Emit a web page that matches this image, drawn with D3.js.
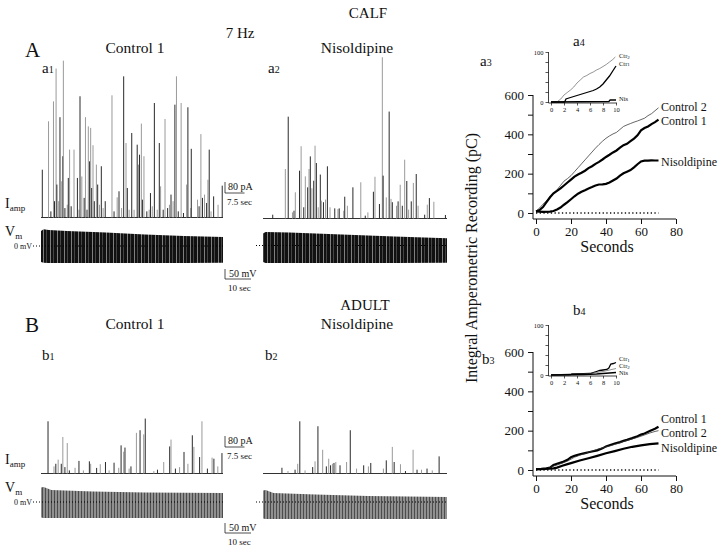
<!DOCTYPE html>
<html><head><meta charset="utf-8">
<script src="https://cdn.jsdelivr.net/npm/d3@7"></script>
<style>
body{margin:0;background:#fff}
svg{display:block}
text{font-family:"Liberation Serif","Times New Roman",Times,serif;fill:#111}
</style>
</head><body>
<svg id="c" width="720" height="548"></svg>
<script>
// ---------------- DATA ----------------
// Amperometric spikes: time (s) and amplitude (pA)
const a1Time = [0.5,2.9,3.8,4.8,5.2,5.8,6.1,6.8,7.3,7.8,8.4,8.6,9.2,10.1,10.5,11.0,11.6,12.7,14.0,14.6,15.0,15.7,16.6,17.1,17.7,18.2,18.7,19.1,19.5,20.0,20.5,21.3,21.8,22.5,23.2,23.9,24.7,27.3,28.1,29.3,30.0,31.0,31.8,32.7,33.2,33.9,34.9,35.8,37.0,37.5,37.9,38.6,39.0,39.6,40.7,41.6,42.1,42.8,43.6,44.7,45.5,46.0,47.0,47.7,48.7,49.4,50.0,50.8,51.5,52.1,52.8,53.9,54.8,56.0,56.5,57.6,57.8,60.2,60.8,61.5,62.1,62.9,63.7,64.2,64.7,65.4,66.4,68.1,69.7];
const a1Amp  = [344,696,41,841,115,1080,236,115,726,260,442,1137,65,89,284,490,78,490,284,53,878,295,139,726,53,659,405,648,211,522,115,381,236,89,369,65,115,885,41,143,187,65,1023,538,211,53,611,53,526,381,453,679,126,442,41,53,174,78,829,53,538,223,53,713,65,89,163,115,817,1023,41,829,29,236,798,65,496,126,78,603,139,163,102,271,490,41,150,89,228];

const a2Time = [3.7,8.5,9.6,11.2,11.8,12.3,13.9,14.5,15.5,16.1,17.0,17.5,18.0,18.6,19.3,19.8,20.3,21.0,21.8,22.2,23.0,23.8,24.5,25.5,27.3,28.5,29.0,30.7,31.1,32.1,34.2,37.2,38.9,39.9,42.0,42.6,44.3,45.4,45.7,46.9,48.0,48.7,49.2,50.8,51.4,52.2,53.0,53.9,54.7,55.4,56.4,57.2,58.3,59.0,61.5,62.5,63.3,65.0,69.4];
const a2Amp  = [24,356,737,41,53,187,344,522,78,303,223,356,448,216,271,526,400,78,316,126,115,134,376,78,70,65,70,53,155,89,223,260,17,41,191,300,102,1169,308,150,774,139,115,89,121,242,89,424,269,61,121,255,320,89,24,97,145,118,22];

const b1Time = [2.7,5.0,5.7,6.6,7.8,8.4,9.2,10.1,10.9,13.1,14.6,16.3,18.6,19.1,21.4,22.8,24.8,26.2,28.1,29.9,30.8,31.8,32.3,33.9,34.6,36.7,38.1,39.5,40.1,43.4,44.8,47.2,49.5,50.0,51.7,53.3,55.0,56.5,58.2,58.8,61.0,61.9,64.0,65.8,66.5,68.0,69.6];
const b1Amp  = [376,48,67,97,67,262,43,218,19,38,88,19,85,67,37,64,80,19,75,38,201,155,185,32,48,292,311,281,396,14,24,80,193,243,32,43,153,67,274,190,116,376,32,112,104,48,145];

const b2Time = [7.2,9.5,12.2,13.2,14.0,16.0,18.9,19.8,20.9,22.7,24.1,25.0,25.7,26.4,27.0,27.7,29.3,31.8,33.2,35.6,38.3,40.1,41.0,45.8,46.9,49.2,49.9,52.3,54.2,57.1,58.6,60.3,62.4,64.4,67.0];
const b2Amp  = [38,14,24,67,376,19,43,85,340,169,48,104,56,67,73,80,56,80,311,32,56,48,73,32,92,190,80,64,14,169,24,24,32,19,121];

// Membrane potential envelopes: time (s), upper and lower limits (mV)
const a1VmTime = [0,1,3,10,25,40,55,70];
const a1VmTop  = [75,84,80,75,67,57,50,45];
const a1VmBot  = [-80,-84,-85,-85,-85,-85,-85,-84];
const a2VmTime = [0,1,10,25,35,50,70];
const a2VmTop  = [60,68,65,58,52,45,36];
const a2VmBot  = [-82,-87,-87,-87,-87,-87,-86];
const b1VmTime = [0,1,4,20,40,70];
const b1VmTop  = [72,75,60,52,48,45];
const b1VmBot  = [-78,-80,-80,-80,-80,-80];
const b2VmTime = [0,1,4,20,40,70];
const b2VmTop  = [58,60,45,38,30,25];
const b2VmBot  = [-83,-85,-85,-85,-85,-85];

// Integrated amperometric recordings (pC) vs time (s)
const a3Ctl1Time = [0,2,4,6,8,10,12,14,16,18,20,22,24,26,28,30,32,34,36,38,40,42,44,46,48,50,52,54,56,58,60,62,64,66,68,70];
const a3Ctl1     = [8,15,30,55,80,100,112,125,140,155,170,185,196,205,215,228,238,250,260,272,285,296,308,318,332,345,352,365,378,395,420,432,440,452,462,475];
const a3Ctl2Time = [0,2,4,6,8,10,12,14,16,18,20,22,24,26,28,30,32,34,36,38,40,42,44,46,48,50,52,54,56,58,60,62,64,66,68,70];
const a3Ctl2     = [10,25,45,62,82,100,118,140,162,175,190,210,230,250,270,290,310,330,348,365,380,392,402,410,425,440,448,455,462,468,475,482,495,505,520,535];
const a3NisTime  = [0,4,8,10,12,14,16,18,20,22,24,26,28,30,32,34,36,38,40,42,44,46,48,50,52,54,56,58,60,62,64,66,68,70];
const a3Nis      = [8,6,7,10,18,28,42,55,70,85,98,108,116,125,132,140,145,146,148,155,165,175,190,202,210,218,232,248,262,266,266,268,267,267];

const b3Ctl1Time = [0,3,6,8,10,12,15,18,20,22,25,28,30,32,35,38,40,42,45,48,50,52,55,58,60,62,65,68,70];
const b3Ctl1     = [5,6,8,12,25,32,40,52,65,72,80,86,90,94,100,110,120,126,135,142,148,153,162,172,180,186,198,210,220];
const b3Ctl2Time = [0,3,6,8,10,12,15,18,20,22,25,28,30,32,35,38,40,42,45,48,50,52,55,58,60,62,65,68,70];
const b3Ctl2     = [5,6,8,12,20,25,35,45,55,65,75,84,90,96,105,112,118,122,130,138,145,150,158,166,172,178,188,196,200];
const b3NisTime  = [0,5,10,12,15,18,20,25,30,35,40,45,50,55,60,65,70];
const b3Nis      = [3,5,8,12,22,30,35,48,60,72,85,96,108,118,125,132,135];

// Insets: first 10 s
const a4Ctr2Time = [0,1,1.5,2,2.5,3,3.5,4,4.5,5,5.5,6,6.5,7,7.5,8,8.5,9,9.5,9.9];
const a4Ctr2     = [0,1,6,14,19,24,30,38,44,50,53,57,60,64,67,71,75,80,85,90];
const a4Ctr1Time = [0,2.1,2.3,3,4,5,6,6.5,7,7.5,8,8.5,9,9.5,10];
const a4Ctr1     = [0,0,6,9,13,17,21,23,26,30,36,44,52,62,72];
const a4NisTime  = [0,8.9,9.1,10];
const a4Nis      = [0,1,4,4];
const b4Ctr1Time = [0,3,3.2,5,6,6.5,7,7.5,8,8.6,8.9,9.2,9.6,10];
const b4Ctr1     = [0,1,2,2.5,3,5,7,9,10,11,14,22,23,25];
const b4Ctr2Time = [0,3,5,6,7,8,9,10];
const b4Ctr2     = [0,1,2,3,5,7,10,13];
const b4NisTime  = [0,3,5,7,9,10];
const b4Nis      = [0,0.5,1,2,4,5];

// Tick values
const mainYTicks = [0,100,200,300,400,500,600];
const mainYLabels = [0,200,400,600];
const mainXTicks = [0,20,40,60,80];
const insetYTicks = [0,20,40,60,80,100];
const insetYLabels = [0,100];
const insetXTicks = [0,2,4,6,8,10];

// ---------------- DRAW ----------------
const svg = d3.select("#c");
svg.append("rect").attr("width",720).attr("height",548).attr("fill","#fff");
const defs = svg.append("defs");
const pd = defs.append("pattern").attr("id","vmDark").attr("patternUnits","userSpaceOnUse").attr("width",7).attr("height",20);
pd.append("rect").attr("width",7).attr("height",20).attr("fill","#111");
pd.append("rect").attr("x",1).attr("width",0.6).attr("height",20).attr("fill","#c8c8c8");
pd.append("rect").attr("x",4.5).attr("width",0.5).attr("height",20).attr("fill","#777");
const pg = defs.append("pattern").attr("id","vmGray").attr("patternUnits","userSpaceOnUse").attr("width",3).attr("height",20);
pg.append("rect").attr("width",3).attr("height",20).attr("fill","#909090");
pg.append("rect").attr("x",0).attr("width",1).attr("height",20).attr("fill","#4c4c4c");

function txt(x,y,s,size,anchor){
  return svg.append("text").attr("x",x).attr("y",y).attr("font-size",size)
    .attr("text-anchor",anchor||"start").text(s);
}
function sub(x,y,main,subs,size,subSize,dy,anchor){
  const t = svg.append("text").attr("x",x).attr("y",y).attr("font-size",size).attr("text-anchor",anchor||"start");
  t.append("tspan").text(main);
  t.append("tspan").attr("font-size",subSize).attr("dy",dy).text(subs);
  return t;
}

// Titles
txt(368,18,"CALF",15,"middle");
txt(240,38,"7 Hz",15,"middle");
txt(25,57,"A",21);
txt(135,53,"Control 1",15.5,"middle");
txt(357,53,"Nisoldipine",15.5,"middle");
sub(42,73,"a","1",15,10,0);
sub(268,73,"a","2",15,10,0);
txt(365,310,"ADULT",15,"middle");
txt(25,332,"B",21);
txt(135,329,"Control 1",15.5,"middle");
txt(357,329,"Nisoldipine",15.5,"middle");
sub(42,360,"b","1",15,10,0);
sub(265,360,"b","2",15,10,0);

function panel(p){
  const x = d3.scaleLinear().domain([0,70]).range([p.x0,p.x1]);
  const yA = d3.scaleLinear().domain([0,80]).range([p.base,p.base-11]);
  const yV = d3.scaleLinear().domain([0,50]).range([p.vm0,p.vm0-10]);
  const g = svg.append("g");
  g.append("line").attr("x1",p.x0).attr("x2",p.x1).attr("y1",p.base+0.5).attr("y2",p.base+0.5)
    .attr("stroke","#333").attr("stroke-width",1);
  g.selectAll("line.sp").data(d3.zip(p.t,p.amp)).join("line").attr("class","sp")
    .attr("x1",d=>x(d[0])).attr("x2",d=>x(d[0]))
    .attr("y1",p.base+0.5).attr("y2",d=>yA(d[1]))
    .attr("stroke",(d,i)=> i%2 ? "#9a9a9a" : "#2a2a2a").attr("stroke-width",1);
  const area = d3.area().x(d=>x(d[0])).y0(d=>yV(d[2])).y1(d=>yV(d[1]));
  g.append("path").datum(d3.zip(p.vt,p.vtop,p.vbot)).attr("d",area).attr("fill",`url(#${p.pat})`);
  g.append("line").attr("x1",p.lead).attr("x2",p.x1).attr("y1",yV(0)).attr("y2",yV(0))
    .attr("stroke","#000").attr("stroke-width",1).attr("stroke-dasharray","1,2");
  return {x,yA,yV};
}
const pa1 = panel({t:a1Time,amp:a1Amp,vt:a1VmTime,vtop:a1VmTop,vbot:a1VmBot,x0:41,x1:223,base:217,vm0:246,lead:33,pat:"vmDark"});
const pa2 = panel({t:a2Time,amp:a2Amp,vt:a2VmTime,vtop:a2VmTop,vbot:a2VmBot,x0:263,x1:447,base:218,vm0:245.5,lead:256,pat:"vmDark"});
const pb1 = panel({t:b1Time,amp:b1Amp,vt:b1VmTime,vtop:b1VmTop,vbot:b1VmBot,x0:41,x1:223,base:473,vm0:502,lead:33,pat:"vmGray"});
const pb2 = panel({t:b2Time,amp:b2Amp,vt:b2VmTime,vtop:b2VmTop,vbot:b2VmBot,x0:263,x1:447,base:473,vm0:502,lead:256,pat:"vmGray"});

// left labels
[[0,pa1],[256,pb1]].forEach(([o,p])=>{
  sub(5,208+o,"I","amp",14,9,3);
  sub(5,236+o,"V","m",14,9,3);
  txt(14,249+o,"0 mV",8);
});

// scale bars
function scaleBars(p,sx,yTop,yBot2){
  const hA = p.yA(0)-p.yA(80), wA = p.x(7.5)-p.x(0);
  const hV = p.yV(0)-p.yV(50), wV = p.x(10)-p.x(0);
  const yb = yTop+hA;
  svg.append("path").attr("d",`M${sx},${yTop}V${yb}H${sx+wA}`).attr("fill","none").attr("stroke","#222").attr("stroke-width",0.8);
  txt(sx+3,yTop+8,"80 pA",10);
  txt(sx+2,yb+12,"7.5 sec",9);
  const yv = yBot2+hV;
  svg.append("path").attr("d",`M${sx},${yBot2}V${yv}H${sx+wV}`).attr("fill","none").attr("stroke","#222").attr("stroke-width",0.8);
  txt(sx+4,yBot2+8,"50 mV",10);
  txt(sx+3,yv+12,"10 sec",9);
}
scaleBars(pa1,225,182,269);
scaleBars(pb1,225,436,523);

// y title
svg.append("text").attr("transform","translate(477,258) rotate(-90)").attr("text-anchor","middle")
  .attr("font-size",16).text("Integral Amperometric Recording (pC)");
sub(480,66,"a","3",15,10,0);
sub(482,364,"b","3",15,10,0);

function cumChart(c){
  const x = d3.scaleLinear().domain([0,80]).range([536,676]);
  const y = d3.scaleLinear().domain([0,600]).range([c.y0,c.y0-118]);
  const g = svg.append("g");
  const ax = 533, ay = c.y0+6;
  g.append("line").attr("x1",ax).attr("x2",ax).attr("y1",y(600)).attr("y2",ay).attr("stroke","#111").attr("stroke-width",1);
  g.append("line").attr("x1",ax).attr("x2",676).attr("y1",ay).attr("y2",ay).attr("stroke","#111").attr("stroke-width",1);
  const yAx = d3.axisLeft(y).tickValues(mainYTicks).tickSize(5).tickSizeOuter(0)
     .tickFormat(d=> mainYLabels.includes(d) ? d : "");
  const gy = g.append("g").attr("transform",`translate(${ax},0)`).call(yAx);
  gy.select(".domain").remove();
  gy.selectAll("text").attr("font-size",13).attr("font-family",null).attr("fill","#111").attr("dx",-1);
  gy.selectAll("line").attr("stroke","#111");
  const xAx = d3.axisBottom(x).tickValues(mainXTicks).tickSize(5).tickSizeOuter(0);
  const gx = g.append("g").attr("transform",`translate(0,${ay})`).call(xAx);
  gx.select(".domain").remove();
  gx.selectAll("text").attr("font-size",13).attr("font-family",null).attr("fill","#111");
  gx.selectAll("line").attr("stroke","#111");
  g.append("text").attr("x",607).attr("y",c.y0+39).attr("text-anchor","middle").attr("font-size",16).text("Seconds");
  g.append("line").attr("x1",x(0)).attr("x2",x(70)).attr("y1",y(0)).attr("y2",y(0))
    .attr("stroke","#111").attr("stroke-width",1.3).attr("stroke-dasharray","1.3,2.4");
  const line = d3.line().x(d=>x(d[0])).y(d=>y(d[1]));
  c.series.forEach(s=>{
    g.append("path").datum(d3.zip(s.t,s.v)).attr("d",line).attr("fill","none")
      .attr("stroke",s.thin?"#333":"#000").attr("stroke-width",s.thin?0.75:2.2);
    g.append("text").attr("x",661).attr("y",s.ly).attr("font-size",12).text(s.label);
  });
}
cumChart({y0:213,series:[
  {t:a3Ctl2Time,v:a3Ctl2,thin:true,label:"Control 2",ly:111},
  {t:a3Ctl1Time,v:a3Ctl1,thin:false,label:"Control 1",ly:125},
  {t:a3NisTime,v:a3Nis,thin:false,label:"Nisoldipine",ly:166}]});
cumChart({y0:470,series:[
  {t:b3Ctl1Time,v:b3Ctl1,thin:false,label:"Control 1",ly:423},
  {t:b3Ctl2Time,v:b3Ctl2,thin:true,label:"Control 2",ly:437},
  {t:b3NisTime,v:b3Nis,thin:false,label:"Nisoldipine",ly:452}]});

function inset(c){
  const x = d3.scaleLinear().domain([0,10]).range([551,616]);
  const y = d3.scaleLinear().domain([0,100]).range([c.y0,c.y0-50]);
  const g = svg.append("g");
  const ax = 548.5;
  g.append("line").attr("x1",ax).attr("x2",ax).attr("y1",y(100)).attr("y2",c.y0+1).attr("stroke","#111").attr("stroke-width",0.8);
  g.append("line").attr("x1",ax).attr("x2",617).attr("y1",c.y0+1).attr("y2",c.y0+1).attr("stroke","#111").attr("stroke-width",0.8);
  const gy = g.append("g").attr("transform",`translate(${ax},0)`).call(
    d3.axisLeft(y).tickValues(insetYTicks).tickSize(3).tickSizeOuter(0).tickFormat(d=>insetYLabels.includes(d)?d:""));
  gy.select(".domain").remove();
  gy.selectAll("text").attr("font-size",6.5).attr("font-family",null).attr("fill","#111").attr("dx",1);
  gy.selectAll("line").attr("stroke","#111").attr("stroke-width",0.7);
  const gx = g.append("g").attr("transform",`translate(0,${c.y0+1})`).call(
    d3.axisBottom(x).tickValues(insetXTicks).tickSize(2.5).tickSizeOuter(0));
  gx.select(".domain").remove();
  gx.selectAll("text").attr("font-size",6.5).attr("font-family",null).attr("fill","#111").attr("dy","0.5em");
  gx.selectAll("line").attr("stroke","#111").attr("stroke-width",0.7);
  const line = d3.line().x(d=>x(d[0])).y(d=>y(d[1]));
  c.series.forEach(s=>{
    g.append("path").datum(d3.zip(s.t,s.v)).attr("d",line).attr("fill","none")
      .attr("stroke",s.thin?"#666":"#000").attr("stroke-width",s.thin?0.7:1.3);
    const t = g.append("text").attr("x",619).attr("y",s.ly).attr("font-size",6.5);
    t.append("tspan").text(s.label);
    if(s.sub) t.append("tspan").attr("font-size",5).attr("dy",0.5).text(s.sub);
  });
  sub(573,c.ly,c.title[0],c.title[1],15,10,0);
}
inset({y0:102,ly:46,title:["a","4"],series:[
  {t:a4Ctr2Time,v:a4Ctr2,thin:true,label:"Ctr",sub:"2",ly:58},
  {t:a4Ctr1Time,v:a4Ctr1,thin:false,label:"Ctr",sub:"1",ly:65.5},
  {t:a4NisTime,v:a4Nis,thin:false,label:"Nis",ly:101}]});
inset({y0:375,ly:315,title:["b","4"],series:[
  {t:b4Ctr1Time,v:b4Ctr1,thin:false,label:"Ctr",sub:"1",ly:361},
  {t:b4Ctr2Time,v:b4Ctr2,thin:true,label:"Ctr",sub:"2",ly:368},
  {t:b4NisTime,v:b4Nis,thin:false,label:"Nis",ly:375}]});
</script>
</body></html>
